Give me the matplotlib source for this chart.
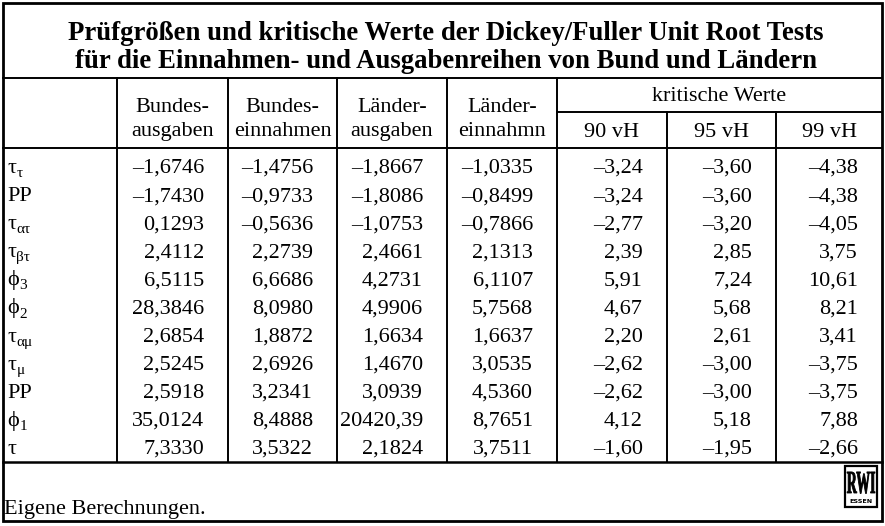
import matplotlib
matplotlib.use('Agg')
import matplotlib.pyplot as plt
from matplotlib.patches import Rectangle, PathPatch
from matplotlib.textpath import TextPath
from matplotlib.font_manager import FontProperties
from matplotlib.transforms import Affine2D

plt.rcParams['font.family'] = ['Liberation Serif', 'DejaVu Serif']

title_lines = ['Prüfgrößen und kritische Werte der Dickey/Fuller Unit Root Tests',
               'für die Einnahmen- und Ausgabenreihen von Bund und Ländern']
col_heads = [('Bundes-', 'ausgaben'), ('Bundes-', 'einnahmen'),
             ('Länder-', 'ausgaben'), ('Länder-', 'einnahmn')]
crit_head = 'kritische Werte'
crit_levels = ['90 vH', '95 vH', '99 vH']

# row labels: base letter + subscript
row_base = ['τ', 'PP', 'τ', 'τ', 'ϕ', 'ϕ', 'τ', 'τ', 'PP', 'ϕ', 'τ']
row_sub = ['τ', '', 'ατ', 'βτ', '3', '2', 'αμ', 'μ', '', '1', '']

bundes_ausgaben = ['–1,6746', '–1,7430', '0,1293', '2,4112', '6,5115', '28,3846',
                   '2,6854', '2,5245', '2,5918', '35,0124', '7,3330']
bundes_einnahmen = ['–1,4756', '–0,9733', '–0,5636', '2,2739', '6,6686', '8,0980',
                    '1,8872', '2,6926', '3,2341', '8,4888', '3,5322']
laender_ausgaben = ['–1,8667', '–1,8086', '–1,0753', '2,4661', '4,2731', '4,9906',
                    '1,6634', '1,4670', '3,0939', '20420,39', '2,1824']
laender_einnahmen = ['–1,0335', '–0,8499', '–0,7866', '2,1313', '6,1107', '5,7568',
                     '1,6637', '3,0535', '4,5360', '8,7651', '3,7511']
krit_90 = ['–3,24', '–3,24', '–2,77', '2,39', '5,91', '4,67', '2,20', '–2,62',
           '–2,62', '4,12', '–1,60']
krit_95 = ['–3,60', '–3,60', '–3,20', '2,85', '7,24', '5,68', '2,61', '–3,00',
           '–3,00', '5,18', '–1,95']
krit_99 = ['–4,38', '–4,38', '–4,05', '3,75', '10,61', '8,21', '3,41', '–3,75',
           '–3,75', '7,88', '–2,66']
source = 'Eigene Berechnungen.'

columns = [bundes_ausgaben, bundes_einnahmen, laender_ausgaben, laender_einnahmen,
           krit_90, krit_95, krit_99]

W, H = 885, 526
fig = plt.figure(figsize=(W / 100, H / 100), dpi=100)
ax = fig.add_axes([0, 0, 1, 1])
ax.set_xlim(0, W)
ax.set_ylim(H, 0)
ax.axis('off')

# grid geometry (pixels)
left, right, top, bottom = 3, 882, 3, 521
y_title, y_head, y_sub, y_data = 78, 148, 112, 462
xcols = [117, 228, 337, 447, 557, 667, 776, right]

lw_out, lw_in = 2.0, 1.4
ax.add_patch(Rectangle((left, top), right - left, bottom - top, fill=False,
                       lw=lw_out, ec='black'))
for y in (y_title, y_head, y_data):
    ax.plot([left, right], [y, y], color='black', lw=lw_in if y != y_data else 1.8)
ax.plot([xcols[4], right], [y_sub, y_sub], color='black', lw=lw_in)
for i, x in enumerate(xcols[:-1]):
    y0 = y_sub if i >= 5 else y_title
    ax.plot([x, x], [y0, y_data], color='black', lw=lw_in)

# title
for i, line in enumerate(title_lines):
    ax.text(446, 40 + i * 28, line, ha='center', va='baseline', fontsize=19.3,
            fontweight='bold')

fs = 16
for i, (a, b) in enumerate(col_heads):
    xc = (xcols[i] + xcols[i + 1]) / 2
    ax.text(xc, 112, a, ha='center', va='baseline', fontsize=fs)
    ax.text(xc, 136, b, ha='center', va='baseline', fontsize=fs)
ax.text((xcols[4] + right) / 2, 101, crit_head, ha='center', va='baseline', fontsize=fs)
for j, lev in enumerate(crit_levels):
    xc = (xcols[4 + j] + xcols[5 + j]) / 2
    ax.text(xc, 137, lev, ha='center', va='baseline', fontsize=fs)

# data rows
row_y0, row_dy = 173, 28.1
fig.canvas.draw()
for r in range(len(row_base)):
    y = row_y0 + r * row_dy
    t = ax.text(7, y, row_base[r], ha='left', va='baseline', fontsize=fs)
    if row_sub[r]:
        bb = t.get_window_extent(renderer=fig.canvas.get_renderer())
        ax.text(bb.x1 + 0.5, y + 4, row_sub[r], ha='left', va='baseline', fontsize=11)
    for c, col in enumerate(columns):
        ax.text(xcols[c + 1] - 24, y, col[r], ha='right', va='baseline', fontsize=fs)

ax.text(4, 514, source, ha='left', va='baseline', fontsize=fs)

# RWI logo, condensed tall lettering
ax.add_patch(Rectangle((845, 466), 32, 41, fill=False, lw=1.6, ec='black'))
tp = TextPath((0, 0), 'RWI', size=23,
              prop=FontProperties(family='Liberation Serif', weight='bold'))
ext = tp.get_extents()
tr = (Affine2D().translate(-(ext.x0 + ext.x1) / 2, 0)
      .scale(28 / ext.width, -1.4) .translate(861, 493))
ax.add_patch(PathPatch(tr.transform_path(tp), fc='black', ec='black', lw=0.6))
ax.text(861, 503, 'ESSEN', ha='center', va='baseline', fontsize=4.6, fontweight='bold',
        family='DejaVu Sans')

fig.savefig('out.png', dpi=100)
